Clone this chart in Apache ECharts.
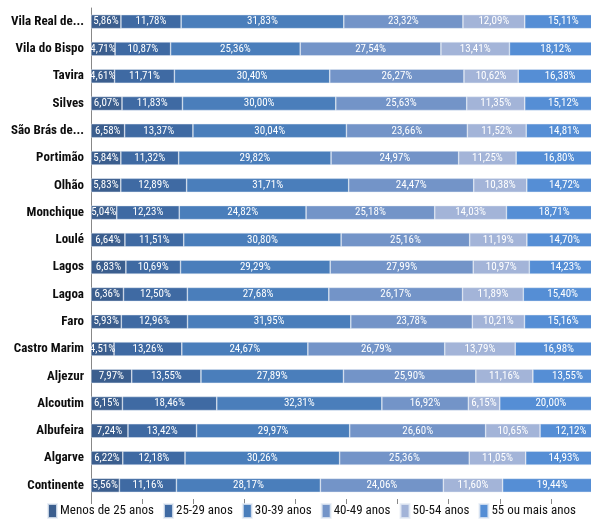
<!DOCTYPE html>
<html>
<head>
<meta charset="utf-8">
<script src="https://cdn.jsdelivr.net/npm/echarts@6/dist/echarts.min.js"></script>
<style>html,body{margin:0;padding:0;background:#fff;}#c{width:591px;height:524px;}</style>
</head>
<body>
<div id="c"></div>
<script>
const categories = ["Vila Real de...", "Vila do Bispo", "Tavira", "Silves", "São Brás de...", "Portimão", "Olhão", "Monchique", "Loulé", "Lagos", "Lagoa", "Faro", "Castro Marim", "Aljezur", "Alcoutim", "Albufeira", "Algarve", "Continente"];
const seriesNames = ["Menos de 25 anos", "25-29 anos", "30-39 anos", "40-49 anos", "50-54 anos", "55 ou mais anos"];
const menos25 = [5.86, 4.71, 4.61, 6.07, 6.58, 5.84, 5.83, 5.04, 6.64, 6.83, 6.36, 5.93, 4.51, 7.97, 6.15, 7.24, 6.22, 5.56];
const a25_29 = [11.78, 10.87, 11.71, 11.83, 13.37, 11.32, 12.89, 12.23, 11.51, 10.69, 12.50, 12.96, 13.26, 13.55, 18.46, 13.42, 12.18, 11.16];
const a30_39 = [31.83, 25.36, 30.40, 30.00, 30.04, 29.82, 31.71, 24.82, 30.80, 29.29, 27.68, 31.95, 24.67, 27.89, 32.31, 29.97, 30.26, 28.17];
const a40_49 = [23.32, 27.54, 26.27, 25.63, 23.66, 24.97, 24.47, 25.18, 25.16, 27.99, 26.17, 23.78, 26.79, 25.90, 16.92, 26.60, 25.36, 24.06];
const a50_54 = [12.09, 13.41, 10.62, 11.35, 11.52, 11.25, 10.38, 14.03, 11.19, 10.97, 11.89, 10.21, 13.79, 11.16, 6.15, 10.65, 11.05, 11.60];
const a55plus = [15.11, 18.12, 16.38, 15.12, 14.81, 16.80, 14.72, 18.71, 14.70, 14.23, 15.40, 15.16, 16.98, 13.55, 20.00, 12.12, 14.93, 19.44];
const allValues = [menos25, a25_29, a30_39, a40_49, a50_54, a55plus];
const colors = ["#3B5E8E", "#3F6AA3", "#4A7EBB", "#7394C8", "#A3B4D8", "#558ED5"];

function pickFont(cands) {
  const ctx = document.createElement('canvas').getContext('2d');
  const s = 'Menos de 25 anos 0123456789';
  ctx.font = '20px monospace'; const m = ctx.measureText(s).width;
  ctx.font = '20px serif'; const se = ctx.measureText(s).width;
  for (const f of cands) {
    ctx.font = "20px '" + f + "', monospace"; const a = ctx.measureText(s).width;
    ctx.font = "20px '" + f + "', serif"; const b = ctx.measureText(s).width;
    if (a !== m || b !== se) return "'" + f + "'";
  }
  return 'sans-serif';
}
const font = pickFont(['Liberation Sans Narrow', 'Roboto Condensed', 'Open Sans Condensed', 'Roboto']);

const chart = echarts.init(document.getElementById('c'));
chart.setOption({
  animation: false,
  grid: { left: 91, right: -11, top: 8, bottom: 25, containLabel: false, outerBoundsMode: 'none' },
  xAxis: {
    type: 'value', min: 0, max: 100, interval: 10,
    axisLine: { show: false },
    axisTick: { show: true, length: 5, lineStyle: { color: '#888' } },
    axisLabel: { show: false },
    splitLine: { show: false }
  },
  yAxis: {
    type: 'category', data: categories, inverse: true,
    axisLine: { show: true, lineStyle: { color: '#888', width: 1 } },
    axisTick: { show: false },
    axisLabel: { color: '#0d0d0d', fontSize: 13, fontWeight: 'bold', fontFamily: font, margin: 7 }
  },
  legend: {
    bottom: 0, left: 42, width: 560, itemWidth: 9, itemHeight: 14, itemGap: 9,
    icon: 'rect',
    textStyle: { color: '#111', fontSize: 13, fontFamily: font, padding: [0, 0, 0, -2] },
    data: seriesNames
  },
  series: seriesNames.map((name, i) => ({
    name: name, type: 'bar', stack: 'total', barWidth: 14,
    data: allValues[i],
    itemStyle: { color: colors[i], borderColor: 'rgba(230,236,245,0.8)', borderWidth: 0.6 },
    label: {
      show: true, position: 'inside', color: '#fff', fontSize: 11, fontFamily: font,
      formatter: p => p.value.toFixed(2).replace('.', ',') + '%'
    }
  }))
});
</script>
</body>
</html>
